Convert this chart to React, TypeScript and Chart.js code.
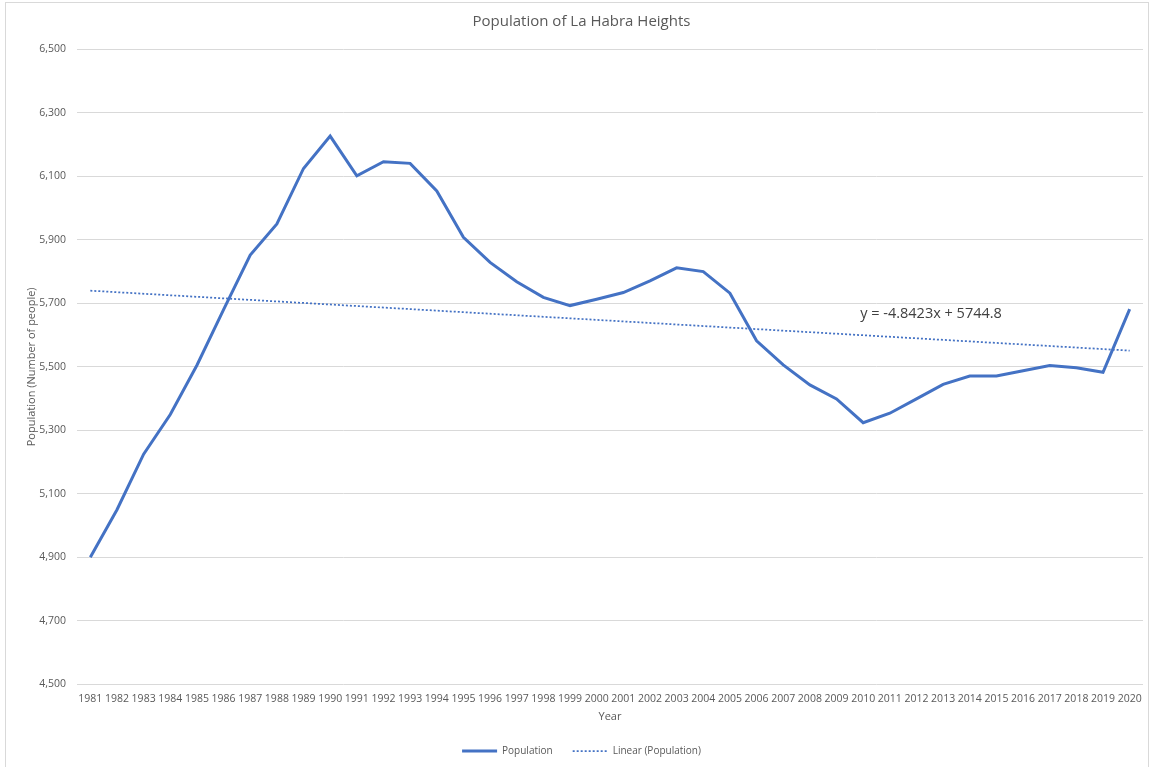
import React, { useEffect, useRef } from "react";
import { Chart, registerables } from "chart.js";

Chart.register(...registerables);

const FONT = "'Open Sans', 'Liberation Sans', sans-serif";
const TEXT = "#595959";
const BLUE = "#4472C4";

const years: string[] = [
  "1981", "1982", "1983", "1984", "1985", "1986", "1987", "1988", "1989", "1990",
  "1991", "1992", "1993", "1994", "1995", "1996", "1997", "1998", "1999", "2000",
  "2001", "2002", "2003", "2004", "2005", "2006", "2007", "2008", "2009", "2010",
  "2011", "2012", "2013", "2014", "2015", "2016", "2017", "2018", "2019", "2020",
];

const population: number[] = [
  4900, 5050, 5225, 5350, 5505, 5680, 5852, 5950, 6125, 6227,
  6102, 6146, 6141, 6054, 5908, 5829, 5768, 5719, 5693, 5713,
  5734, 5771, 5812, 5800, 5732, 5582, 5506, 5443, 5399, 5324,
  5354, 5399, 5445, 5471, 5471, 5488, 5504, 5497, 5483, 5682,
];

// Linear trend endpoints (first and last year), as shown in the chart
const trendYears: string[] = ["1981", "2020"];
const trendValues: number[] = [5740.0, 5551.1];

const equationText = "y = -4.8423x + 5744.8";
const equationAnchorYear = "2010";
const equationAnchorValue = 5668;

const yMin = 4500;
const yMax = 6500;
const yStep = 200;

const chartTitle = "Population of La Habra Heights";
const xTitle = "Year";
const yTitle = "Population (Number of people)";

const framePlugin = {
  id: "frame",
  beforeDraw(chart: any) {
    const ctx = chart.ctx;
    ctx.save();
    ctx.fillStyle = "#ffffff";
    ctx.fillRect(0, 0, chart.width, chart.height);
    ctx.strokeStyle = "#D9D9D9";
    ctx.lineWidth = 1;
    ctx.strokeRect(5.5, 2.5, 1143, 800);
    ctx.restore();
  },
};

const equationPlugin = {
  id: "equation",
  afterDatasetsDraw(chart: any) {
    const ctx = chart.ctx;
    const xs = chart.scales.x;
    const ys = chart.scales.y;
    const idx = years.indexOf(equationAnchorYear);
    const px = xs.getPixelForValue(idx) - 3;
    const py = ys.getPixelForValue(equationAnchorValue);
    ctx.save();
    ctx.font = `14.5px ${FONT}`;
    ctx.fillStyle = "#404040";
    ctx.textAlign = "left";
    ctx.textBaseline = "middle";
    ctx.fillText(equationText, px, py);
    ctx.restore();
  },
};

export default function App() {
  const ref = useRef<HTMLCanvasElement | null>(null);

  useEffect(() => {
    if (!ref.current) return;
    const chart = new Chart(ref.current, {
      type: "line",
      data: {
        labels: years,
        datasets: [
          {
            label: "Population",
            data: population,
            borderColor: BLUE,
            backgroundColor: BLUE,
            borderWidth: 3,
            pointRadius: 0,
            tension: 0,
            fill: false,
          },
          {
            label: "Linear (Population)",
            data: trendYears.map((yr, i) => ({ x: yr, y: trendValues[i] })) as any,
            borderColor: BLUE,
            backgroundColor: "rgba(0,0,0,0)",
            borderWidth: 1.75,
            borderDash: [2, 2],
            pointRadius: 0,
            tension: 0,
            fill: false,
          },
        ],
      },
      options: {
        responsive: false,
        animation: false,
        devicePixelRatio: 1,
        layout: { padding: { left: 10, right: 1, top: 0, bottom: 1 } },
        plugins: {
          title: {
            display: true,
            text: chartTitle,
            color: TEXT,
            font: { family: FONT, size: 15, weight: "normal" },
            padding: { top: 13, bottom: 18.4 },
          },
          legend: {
            position: "bottom",
            labels: {
              color: TEXT,
              font: { family: FONT, size: 10 },
              boxWidth: 35,
              boxHeight: 0,
              padding: 20,
            },
          },
          tooltip: { enabled: false },
        },
        scales: {
          x: {
            type: "category",
            offset: true,
            grid: { display: false, drawTicks: false },
            border: { display: false },
            ticks: {
              color: TEXT,
              font: { family: FONT, size: 10.5 },
              padding: 8,
              maxRotation: 0,
              autoSkip: false,
            },
            title: {
              display: true,
              text: xTitle,
              color: TEXT,
              font: { family: FONT, size: 11 },
              padding: { top: 0, bottom: 2.4 },
            },
            afterFit: (s: any) => {
              s.height = 41.7;
            },
          },
          y: {
            min: yMin,
            max: yMax,
            ticks: {
              stepSize: yStep,
              color: TEXT,
              font: { family: FONT, size: 10.5 },
              padding: 11,
              callback: (v: any) => Number(v).toLocaleString("en-US"),
            },
            grid: { color: "#D9D9D9", drawTicks: false },
            border: { display: false },
            title: {
              display: true,
              text: yTitle,
              color: TEXT,
              font: { family: FONT, size: 11 },
              padding: { top: 15, bottom: 0 },
            },
            afterFit: (s: any) => {
              s.width = 67;
            },
          },
          y2: {
            position: "right",
            display: true,
            grid: { display: false },
            border: { display: false },
            ticks: { display: false },
            afterFit: (s: any) => {
              s.width = 10;
            },
          },
        },
      } as any,
      plugins: [framePlugin, equationPlugin],
    });
    return () => chart.destroy();
  }, []);

  return (
    <div style={{ position: "absolute", left: 0, top: 0, width: 1154, height: 767 }}>
      <canvas ref={ref} width={1154} height={767} style={{ display: "block" }} />
    </div>
  );
}
